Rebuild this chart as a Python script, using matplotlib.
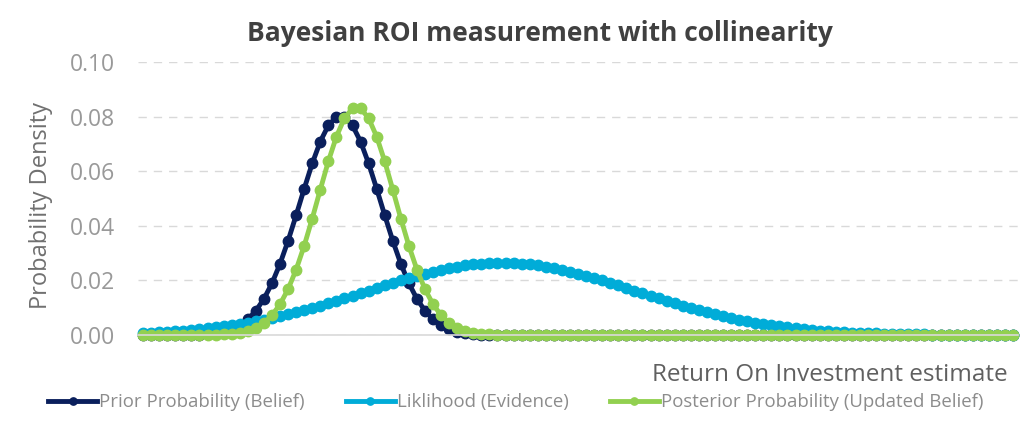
import numpy as np
import matplotlib
matplotlib.use('Agg')
import matplotlib.pyplot as plt

# values, one per marker (109 markers per curve)
prior = [0.0, 0.0, 0.0, 0.00001, 0.00002, 0.00004, 0.00009, 0.00018, 0.00035, 0.00066,
         0.00120, 0.00210, 0.00353, 0.00570, 0.00886, 0.01321, 0.01893, 0.02607, 0.03450, 0.04385,
         0.05356, 0.06285, 0.07087, 0.07677, 0.07990, 0.07990, 0.07677, 0.07087, 0.06285, 0.05356,
         0.04385, 0.03450, 0.02607, 0.01893, 0.01321, 0.00886, 0.00570, 0.00353, 0.00210, 0.00120,
         0.00066, 0.00035, 0.00018, 0.00009, 0.00004, 0.00002, 0.00001, 0.0, 0.0, 0.0,
         0.0, 0.0, 0.0, 0.0, 0.0, 0.0, 0.0, 0.0, 0.0, 0.0,
         0.0, 0.0, 0.0, 0.0, 0.0, 0.0, 0.0, 0.0, 0.0, 0.0,
         0.0, 0.0, 0.0, 0.0, 0.0, 0.0, 0.0, 0.0, 0.0, 0.0,
         0.0, 0.0, 0.0, 0.0, 0.0, 0.0, 0.0, 0.0, 0.0, 0.0,
         0.0, 0.0, 0.0, 0.0, 0.0, 0.0, 0.0, 0.0, 0.0, 0.0,
         0.0, 0.0, 0.0, 0.0, 0.0, 0.0, 0.0, 0.0, 0.0]

likelihood = [0.00077, 0.00090, 0.00105, 0.00122, 0.00141, 0.00163, 0.00187, 0.00214, 0.00245, 0.00278,
              0.00315, 0.00356, 0.00400, 0.00449, 0.00501, 0.00558, 0.00619, 0.00684, 0.00753, 0.00827,
              0.00904, 0.00985, 0.01069, 0.01156, 0.01246, 0.01339, 0.01433, 0.01528, 0.01624, 0.01719,
              0.01814, 0.01907, 0.01997, 0.02085, 0.02168, 0.02247, 0.02320, 0.02388, 0.02448, 0.02501,
              0.02546, 0.02583, 0.02611, 0.02629, 0.02639, 0.02639, 0.02629, 0.02611, 0.02583, 0.02546,
              0.02501, 0.02448, 0.02388, 0.02320, 0.02247, 0.02168, 0.02085, 0.01997, 0.01907, 0.01814,
              0.01719, 0.01624, 0.01528, 0.01433, 0.01339, 0.01246, 0.01156, 0.01069, 0.00985, 0.00904,
              0.00827, 0.00753, 0.00684, 0.00619, 0.00558, 0.00501, 0.00449, 0.00400, 0.00356, 0.00315,
              0.00278, 0.00245, 0.00214, 0.00187, 0.00163, 0.00141, 0.00122, 0.00105, 0.00090, 0.00077,
              0.00065, 0.00056, 0.00047, 0.00040, 0.00033, 0.00028, 0.00023, 0.00019, 0.00016, 0.00013,
              0.00011, 0.00009, 0.00007, 0.00006, 0.00005, 0.00004, 0.00003, 0.00002, 0.00002]

posterior = [0.0, 0.0, 0.0, 0.0, 0.0, 0.0, 0.00001, 0.00002, 0.00004, 0.00009,
             0.00020, 0.00040, 0.00078, 0.00145, 0.00259, 0.00442, 0.00721, 0.01124, 0.01677, 0.02392,
             0.03266, 0.04264, 0.05324, 0.06361, 0.07267, 0.07943, 0.08304, 0.08304, 0.07943, 0.07267,
             0.06361, 0.05324, 0.04264, 0.03266, 0.02392, 0.01677, 0.01124, 0.00721, 0.00442, 0.00259,
             0.00145, 0.00078, 0.00040, 0.00020, 0.00009, 0.00004, 0.00002, 0.00001, 0.0, 0.0,
             0.0, 0.0, 0.0, 0.0, 0.0, 0.0, 0.0, 0.0, 0.0, 0.0,
             0.0, 0.0, 0.0, 0.0, 0.0, 0.0, 0.0, 0.0, 0.0, 0.0,
             0.0, 0.0, 0.0, 0.0, 0.0, 0.0, 0.0, 0.0, 0.0, 0.0,
             0.0, 0.0, 0.0, 0.0, 0.0, 0.0, 0.0, 0.0, 0.0, 0.0,
             0.0, 0.0, 0.0, 0.0, 0.0, 0.0, 0.0, 0.0, 0.0, 0.0,
             0.0, 0.0, 0.0, 0.0, 0.0, 0.0, 0.0, 0.0, 0.0]

series_names = ['Prior Probability (Belief)', 'Liklihood (Evidence)', 'Posterior Probability (Updated Belief)']
series_colors = ['#0a1f5c', '#00acd8', '#92d050']
y_ticks = [0.00, 0.02, 0.04, 0.06, 0.08, 0.10]

plt.rcParams['font.family'] = ['Open Sans', 'DejaVu Sans']

fig = plt.figure(figsize=(10.24, 4.43), dpi=100)
ax = fig.add_axes([0.135, 0.2438, 0.859, 0.6162])

x = np.arange(len(prior))
for vals, name, col in zip([prior, likelihood, posterior], series_names, series_colors):
    ax.plot(x, vals, color=col, lw=3.5, marker='o', markersize=7.5, label=name, clip_on=False)

ax.set_xlim(-0.6, len(prior) - 0.4)
ax.set_ylim(0, 0.10)
ax.set_yticks(y_ticks)
ax.set_yticklabels(['%.2f' % v for v in y_ticks])
ax.set_xticks([])
ax.tick_params(axis='y', length=0, labelsize=16.5, labelcolor='#999999', pad=16.5)

ax.grid(axis='y', color='#d9d9d9', lw=1, ls=(0, (6, 5)))
ax.set_axisbelow(True)
for s in ['top', 'right', 'left']:
    ax.spines[s].set_visible(False)
ax.spines['bottom'].set_color('#d9d9d9')
ax.spines['bottom'].set_linewidth(1.2)

ax.set_ylabel('Probability Density', fontsize=17, color='#707070')
ax.yaxis.set_label_coords(-0.097, 0.475)

fig.text(0.527, 0.925, 'Bayesian ROI measurement with collinearity', ha='center', va='center',
         fontsize=19, fontweight='bold', color='#404040')
fig.text(0.984, 0.153, 'Return On Investment estimate', ha='right', va='center',
         fontsize=17.5, color='#606060')

fig.legend(loc='center left', bbox_to_anchor=(0.047, 0.092), ncol=3, frameon=False,
           fontsize=13.4, handlelength=2.65, handletextpad=0.1, columnspacing=2.2,
           borderpad=0, borderaxespad=0,
           numpoints=1, markerscale=0.7, labelcolor='#8c8c8c')

fig.savefig('out.png', dpi=100)
